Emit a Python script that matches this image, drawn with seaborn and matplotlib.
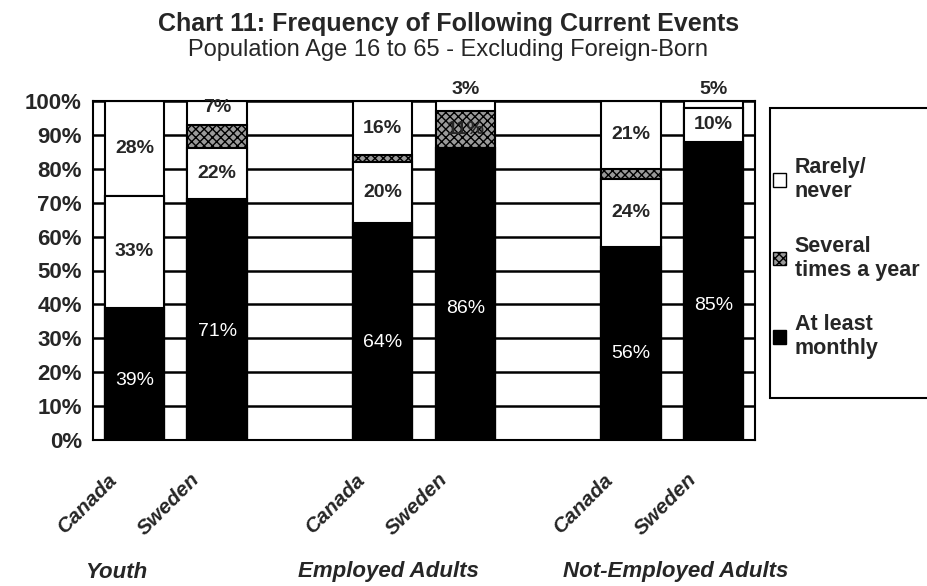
import numpy as np
import pandas as pd
import matplotlib
matplotlib.use("Agg")
import matplotlib.pyplot as plt
from matplotlib.patches import Patch, Rectangle
from matplotlib.transforms import ScaledTranslation
import seaborn as sb

sb.set_style("white")
plt.rcParams["font.family"] = ["Liberation Sans", "DejaVu Sans"]

# data
groups = ["Youth", "Employed Adults", "Not-Employed Adults"]
countries = ["Canada", "Sweden", "Canada", "Sweden", "Canada", "Sweden"]
slots = ["Y_CA", "Y_SE", "E_CA", "E_SE", "N_CA", "N_SE"]
order = ["Y_CA", "Y_SE", "gap1", "E_CA", "E_SE", "gap2", "N_CA", "N_SE"]

monthly = [39, 71, 64, 86, 57, 88]
middle = [33, 15, 18, 0, 20, 10]
several = [0, 7, 2, 11, 3, 0]
rarely = [28, 7, 16, 3, 20, 2]

monthly_lbl = ["39%", "71%", "64%", "86%", "56%", "85%"]
middle_lbl = ["33%", "22%", "20%", "", "24%", "10%"]
several_lbl = ["", "", "", "11%", "", ""]
rarely_lbl = ["28%", "7%", "16%", "3%", "21%", "5%"]

df = pd.DataFrame({"slot": slots, "monthly": monthly, "middle": middle,
                   "several": several, "rarely": rarely})
df["c1"] = df["monthly"]
df["c2"] = df["c1"] + df["middle"]
df["c3"] = df["c2"] + df["several"]
df["c4"] = df["c3"] + df["rarely"]

fig = plt.figure(figsize=(9.27, 5.86), dpi=100)
ax = fig.add_axes([93/927, 1-440/586, 662/927, 339/586])

layers = [("c4", "white", None), ("c3", "#9a9a9a", "xxxx"),
          ("c2", "white", None), ("c1", "black", None)]
for col, color, hatch in layers:
    n0 = len(ax.patches)
    sb.barplot(data=df, x="slot", y=col, order=order, color=color,
               edgecolor="black", linewidth=1.5, width=0.72, ax=ax,
               saturation=1, errorbar=None)
    for p in ax.patches[n0:]:
        if hatch:
            p.set_hatch(hatch)
        p.set_zorder(2)

pos = [order.index(s) for s in slots]

# value labels
fs = 14
for i, x in enumerate(pos):
    ax.text(x, monthly[i]*0.45, monthly_lbl[i], color="white", ha="center",
            va="center", fontsize=fs, zorder=5)
    if middle_lbl[i]:
        ax.text(x, df["c1"][i] + middle[i]/2, middle_lbl[i], ha="center",
                va="center", fontsize=fs, fontweight="bold", zorder=5)
    if several_lbl[i]:
        ax.text(x, df["c2"][i] + several[i]/2, several_lbl[i], ha="center",
                va="center", fontsize=fs, fontweight="bold", zorder=5)
    if rarely[i] >= 7:
        ax.text(x, df["c3"][i] + rarely[i]/2 + (1.5 if rarely[i] < 10 else 0),
                rarely_lbl[i], ha="center", va="center", fontsize=fs,
                fontweight="bold", zorder=5, clip_on=False)
    else:
        ax.text(x, 100.8, rarely_lbl[i], ha="center", va="bottom",
                fontsize=fs, fontweight="bold", zorder=5, clip_on=False)

ax.set_ylim(0, 100)
ax.set_xlim(-0.5, 7.5)
ax.set_yticks(range(0, 101, 10))
ax.set_yticklabels([f"{v}%" for v in range(0, 101, 10)], fontsize=16,
                   fontweight="bold")

# country labels, rotated under each bar
ax.set_xticks(pos)
ax.set_xticklabels([])
shift = ScaledTranslation(-0.27, -0.30, fig.dpi_scale_trans)
for x, c in zip(pos, countries):
    ax.text(x, 0, c, transform=ax.get_xaxis_transform() + shift,
            rotation=45, ha="right", va="top", rotation_mode="anchor",
            fontsize=15, fontweight="bold", fontstyle="italic")
ax.set_xticks([k + 0.5 for k in range(8)], minor=True)
ax.tick_params(axis="x", which="major", length=0)
ax.tick_params(axis="x", which="minor", length=8, width=1.5, direction="inout")
ax.tick_params(axis="y", length=8, width=1.5, direction="inout", pad=4)
ax.set_xlabel("")
ax.set_ylabel("")
ax.yaxis.grid(True, color="black", linewidth=1.8)
ax.set_axisbelow(True)
for s in ax.spines.values():
    s.set_color("black")
    s.set_linewidth(1.5)

fig.text(449/927, 1-24/586, "Chart 11: Frequency of Following Current Events",
         ha="center", va="center", fontsize=18, fontweight="bold")
fig.text(448/927, 1-50/586, "Population Age 16 to 65 - Excluding Foreign-Born",
         ha="center", va="center", fontsize=17)

for g, xc in zip(groups, [116, 388, 676]):
    fig.text(xc/927, 1-572/586, g, ha="center", va="center", fontsize=16,
             fontweight="bold", fontstyle="italic")

# legend box
fig.patches.append(Rectangle((770/927, 1-398/586), 170/927, 290/586,
                             transform=fig.transFigure, facecolor="white",
                             edgecolor="black", linewidth=1.5))
handles = [Patch(facecolor="white", edgecolor="black", label="Rarely/\nnever"),
           Patch(facecolor="#9a9a9a", edgecolor="black", hatch="xxxx",
                 label="Several\ntimes a year"),
           Patch(facecolor="black", edgecolor="black", label="At least\nmonthly")]
leg = fig.legend(handles=handles, loc="upper left",
                 bbox_to_anchor=(773/927, 1-157/586), frameon=False,
                 prop={"weight": "bold", "size": 15.5}, labelspacing=1.55,
                 handlelength=0.6, handleheight=0.6, handletextpad=0.4,
                 borderpad=0, borderaxespad=0)

plt.savefig("out.png", dpi=100)
